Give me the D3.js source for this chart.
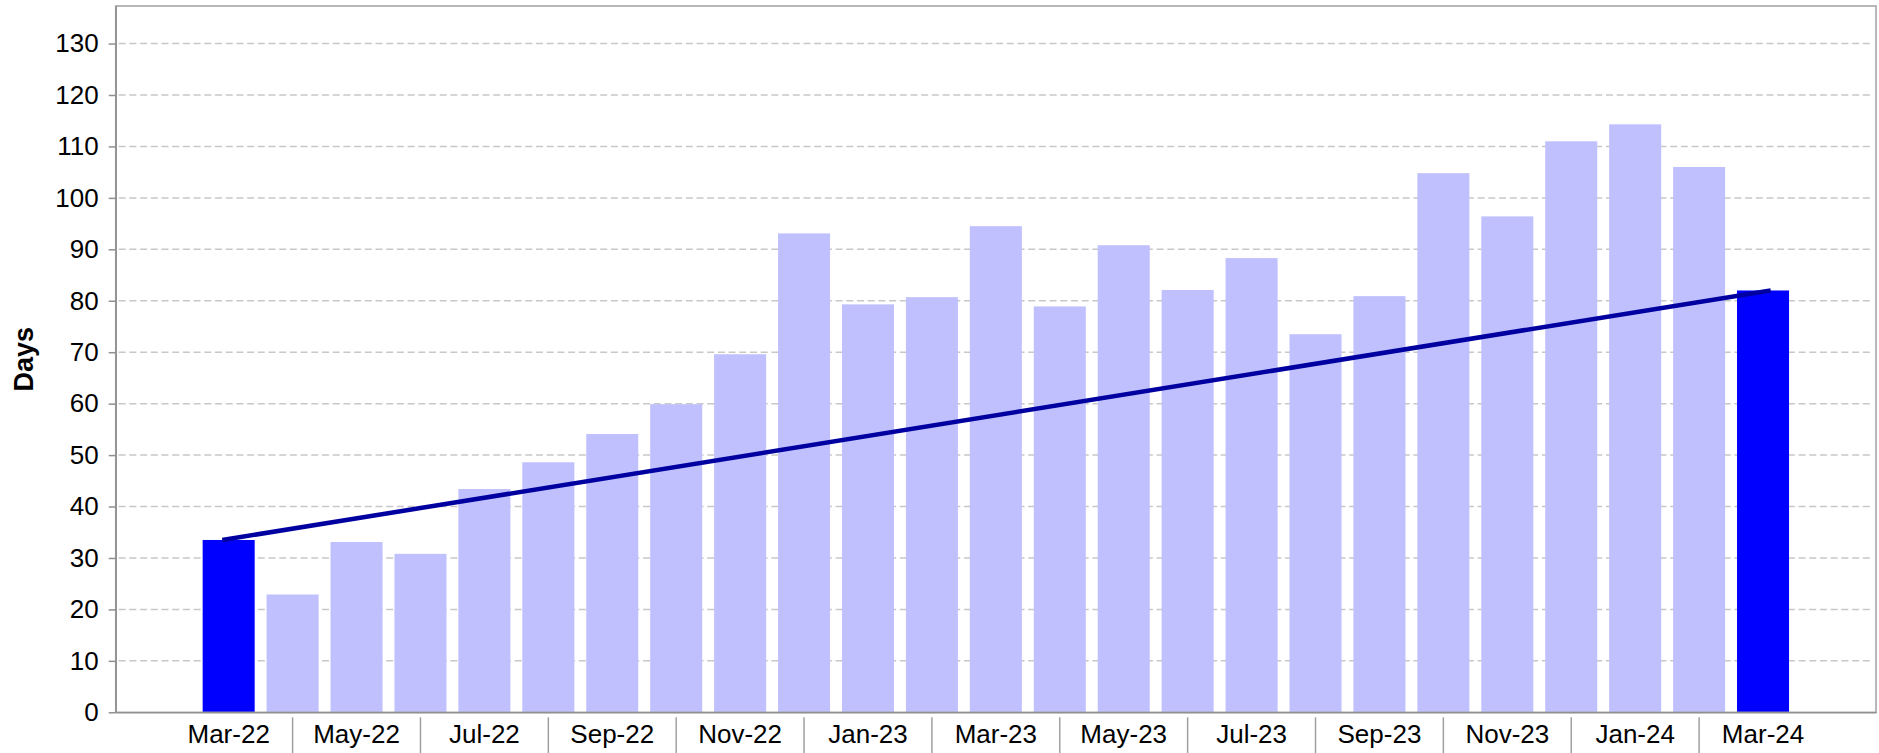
<!DOCTYPE html>
<html>
<head>
<meta charset="utf-8">
<script src="https://cdn.jsdelivr.net/npm/d3@7"></script>
<style>
    body { margin: 0; background: #ffffff; }
    text { font-family: Arial, "Liberation Sans", sans-serif; }
</style>
</head>
<body>
<svg id="grafico"></svg>
<script>
// meses y dias
var meses = ["Mar-22", "Apr-22", "May-22", "Jun-22", "Jul-22", "Aug-22", "Sep-22", "Oct-22",
    "Nov-22", "Dec-22", "Jan-23", "Feb-23", "Mar-23", "Apr-23", "May-23", "Jun-23",
    "Jul-23", "Aug-23", "Sep-23", "Oct-23", "Nov-23", "Dec-23", "Jan-24", "Feb-24", "Mar-24"];
var dias = [33.5, 22.9, 33.1, 30.8, 43.4, 48.6, 54.1, 59.9,
    69.6, 93.1, 79.3, 80.7, 94.5, 78.9, 90.8, 82.1,
    88.3, 73.5, 80.9, 104.8, 96.4, 111.0, 114.3, 106.0, 82.0];
var destacados = ["Mar-22", "Mar-24"];
var ticksY = [0, 10, 20, 30, 40, 50, 60, 70, 80, 90, 100, 110, 120, 130];
var etiquetasX = ["Mar-22", "May-22", "Jul-22", "Sep-22", "Nov-22", "Jan-23", "Mar-23",
    "May-23", "Jul-23", "Sep-23", "Nov-23", "Jan-24", "Mar-24"];
var tituloY = "Days";

var width = 1879, height = 753;
var margin = { top: 6, right: 3, bottom: 40.7, left: 115.7 };
var plotW = width - margin.left - margin.right,
    plotH = height - margin.top - margin.bottom;

var svg = d3.select("#grafico")
    .attr("width", width)
    .attr("height", height);

var g = svg.append("g")
    .attr("transform", "translate(" + margin.left + "," + margin.top + ")");

var x = d3.scaleBand()
    .domain(meses)
    .range([0, plotW])
    .paddingInner(0.186)
    .paddingOuter(1.36);

var y = d3.scaleLinear()
    .domain([0, 137.3])
    .range([plotH, 0]);

// lineas de la grilla
g.append("g")
    .selectAll("line")
    .data(ticksY.filter(function (d) { return d > 0; }))
    .enter().append("line")
    .attr("x1", 3)
    .attr("x2", plotW - 3)
    .attr("y1", function (d) { return y(d); })
    .attr("y2", function (d) { return y(d); })
    .attr("stroke", "#c8c8c8")
    .attr("stroke-width", 1.5)
    .attr("stroke-dasharray", "7,3.7");

// barras
g.append("g")
    .selectAll("rect")
    .data(meses)
    .enter().append("rect")
    .attr("x", function (d) { return x(d); })
    .attr("width", x.bandwidth())
    .attr("y", function (d, i) { return y(dias[i]); })
    .attr("height", function (d, i) { return y(0) - y(dias[i]); })
    .attr("fill", function (d) { return destacados.indexOf(d) >= 0 ? "#0000ff" : "#c0c0ff"; });

// linea de tendencia entre primer y ultimo mes
var primero = meses[0], ultimo = meses[meses.length - 1];
var tendencia = [
    { mes: primero, valor: dias[0], desp: -0.1 },
    { mes: ultimo, valor: dias[dias.length - 1], desp: 0.12 }
];
g.append("path")
    .datum(tendencia)
    .attr("fill", "none")
    .attr("stroke", "#0000a0")
    .attr("stroke-width", 4.5)
    .attr("d", d3.line()
        .x(function (d) { return x(d.mes) + x.bandwidth() / 2 + d.desp * x.step(); })
        .y(function (d) { return y(d.valor); })
    );

// marco del grafico
g.append("rect")
    .attr("x", 0)
    .attr("y", 0)
    .attr("width", plotW)
    .attr("height", plotH)
    .attr("fill", "none")
    .attr("stroke", "#a0a0a0")
    .attr("stroke-width", 1.5);

// eje Y
var ejeY = g.append("g")
    .call(d3.axisLeft(y).tickValues(ticksY).tickSize(7).tickPadding(10).tickSizeOuter(0));
ejeY.select(".domain").attr("stroke", "#909090").attr("stroke-width", 1.5);
ejeY.selectAll(".tick line").attr("stroke", "#909090").attr("stroke-width", 1.5);
ejeY.selectAll(".tick text")
    .attr("font-size", "26px")
    .attr("font-family", "Arial, 'Liberation Sans', sans-serif")
    .attr("fill", "#000");

// eje X: etiquetas cada dos meses, separadores en los meses intermedios
var ejeX = g.append("g")
    .attr("transform", "translate(0," + plotH + ")")
    .call(d3.axisBottom(x).tickValues(etiquetasX).tickSize(0).tickPadding(12).tickSizeOuter(0));
ejeX.select(".domain").attr("stroke", "#909090").attr("stroke-width", 1.5);
ejeX.selectAll(".tick text")
    .attr("font-size", "26px")
    .attr("font-family", "Arial, 'Liberation Sans', sans-serif")
    .attr("fill", "#000");

ejeX.append("g")
    .selectAll("line")
    .data(meses.filter(function (d, i) { return i % 2 === 1; }))
    .enter().append("line")
    .attr("x1", function (d) { return x(d) + x.bandwidth() / 2; })
    .attr("x2", function (d) { return x(d) + x.bandwidth() / 2; })
    .attr("y1", 5)
    .attr("y2", margin.bottom)
    .attr("stroke", "#a0a0a0")
    .attr("stroke-width", 1.5);

// titulo eje Y
svg.append("text")
    .attr("transform", "translate(32.6," + (margin.top + plotH / 2) + ") rotate(-90)")
    .attr("text-anchor", "middle")
    .attr("font-size", "27px")
    .attr("font-weight", "bold")
    .attr("fill", "#000")
    .text(tituloY);
</script>
</body>
</html>
